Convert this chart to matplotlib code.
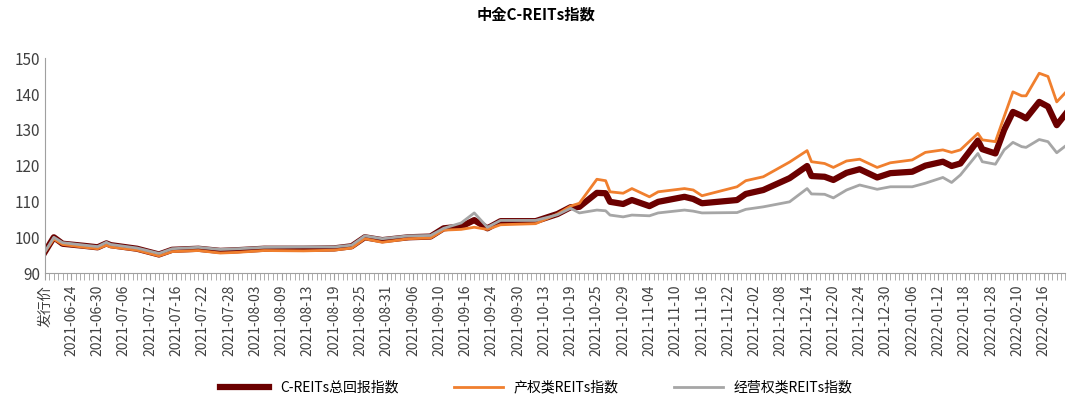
import matplotlib.pyplot as plt

plt.rcParams['font.family'] = ['Noto Sans CJK SC', 'Noto Sans CJK JP', 'Noto Sans CJK TC', 'DejaVu Sans']

# 交易日序号（每个点对应一个交易日）
day = [0, 2, 4, 9, 12, 14, 15, 21, 26, 29, 35, 40, 44, 50, 59, 66, 70, 73, 77, 83,
       88, 91, 95, 98, 101, 104, 112, 117, 120, 122, 126, 128, 129, 132, 134, 138, 140,
       146, 148, 150, 158, 160, 164, 170, 174, 175, 178, 180, 183, 186, 190, 193, 198,
       201, 205, 207, 209, 213, 214, 217, 219, 221, 223, 224, 227, 229, 231, 233]
total = [96, 100, 98.2, 97.6, 97.2, 98.3, 97.8, 96.8, 95.2, 96.5, 96.8, 96.2, 96.4, 96.8,
         96.8, 96.9, 97.5, 100, 99.2, 100, 100.2, 102.5, 103, 104.8, 102.5, 104.5, 104.5,
         106.5, 108.4, 108.5, 112.4, 112.3, 109.9, 109.3, 110.4, 108.7, 109.9, 111.3, 110.7,
         109.5, 110.4, 112.1, 113.2, 116.5, 119.9, 117.1, 116.9, 116, 118, 119, 116.7, 117.9,
         118.3, 120, 121.1, 119.9, 120.6, 127, 124.6, 123.4, 130, 135, 133.9, 133.2, 137.8,
         136.5, 131.3, 134.4]
prop = [96, 99.5, 98, 97.2, 96.8, 97.8, 97.3, 96.4, 94.8, 96, 96.3, 95.6, 95.8, 96.3,
        96.2, 96.4, 97, 99.6, 98.6, 99.6, 99.8, 102, 102.2, 102.8, 102.2, 103.5, 103.8,
        106.5, 108.7, 109.5, 116.2, 115.8, 112.7, 112.3, 113.6, 111.3, 112.7, 113.6, 113.2,
        111.6, 114.1, 115.8, 116.9, 121, 124.2, 121.1, 120.6, 119.5, 121.3, 121.8, 119.5,
        120.8, 121.6, 123.7, 124.4, 123.7, 124.4, 129, 127.2, 126.7, 133.7, 140.6, 139.5,
        139.5, 145.8, 144.9, 137.8, 140.4]
oper = [96, 100, 98.5, 97.8, 97.4, 98.6, 98, 97, 95.5, 96.8, 97.2, 96.6, 96.8, 97.2,
        97.3, 97.3, 97.8, 100.4, 99.6, 100.4, 100.5, 102.5, 104, 106.8, 102.8, 104.7, 104.7,
        106.3, 108.1, 106.8, 107.6, 107.4, 106.2, 105.7, 106.2, 106, 106.8, 107.6, 107.3,
        106.8, 106.9, 107.8, 108.5, 109.9, 113.6, 112.1, 112, 111, 113.2, 114.6, 113.4,
        114.1, 114.1, 115.1, 116.7, 115.3, 117.4, 123.4, 121.1, 120.4, 124.4, 126.5, 125.3,
        125.1, 127.3, 126.7, 123.6, 125.5]

tick_labels = ['发行价', '2021-06-24', '2021-06-30', '2021-07-06', '2021-07-12', '2021-07-16',
               '2021-07-22', '2021-07-28', '2021-08-03', '2021-08-09', '2021-08-13', '2021-08-19',
               '2021-08-25', '2021-08-31', '2021-09-06', '2021-09-10', '2021-09-16', '2021-09-24',
               '2021-09-30', '2021-10-13', '2021-10-19', '2021-10-25', '2021-10-29', '2021-11-04',
               '2021-11-10', '2021-11-16', '2021-11-22', '2021-12-02', '2021-12-08', '2021-12-14',
               '2021-12-20', '2021-12-24', '2021-12-30', '2022-01-06', '2022-01-12', '2022-01-18',
               '2022-01-28', '2022-02-10', '2022-02-16']
tick_pos = list(range(0, 6 * len(tick_labels), 6))

fig = plt.figure(figsize=(10.73, 4.07), dpi=100)
ax = fig.add_axes([0.042, 0.329, 0.951, 0.528])

ax.plot(day, prop, color='#F07F2E', lw=2, label='产权类REITs指数', zorder=2)
ax.plot(day, total, color='#6B0000', lw=4.5, label='C-REITs总回报指数', zorder=1)
ax.plot(day, oper, color='#A6A6A6', lw=2, label='经营权类REITs指数', zorder=3)

ax.set_xlim(0, 233)
ax.set_ylim(90, 150)
ax.set_yticks(range(90, 151, 10))
ax.set_xticks(tick_pos)
ax.set_xticklabels(tick_labels, rotation=90, fontsize=10, color='#404040')
ax.set_xticks(range(0, 234), minor=True)
ax.tick_params(axis='x', which='both', direction='out', length=5, color='#A0A0A0')
ax.tick_params(axis='y', length=0, labelsize=11, colors='#404040')
for s in ['top', 'right']:
    ax.spines[s].set_visible(False)
ax.spines['bottom'].set_color('#A0A0A0')
ax.spines['left'].set_color('#A0A0A0')

handles, labels = ax.get_legend_handles_labels()
order = [1, 0, 2]
fig.legend([handles[i] for i in order], [labels[i] for i in order], loc='lower center',
           ncol=3, frameon=False, fontsize=10, bbox_to_anchor=(0.5, 0.0),
           handlelength=3.5, columnspacing=4)
fig.suptitle('中金C-REITs指数', fontsize=11, fontweight='bold', y=0.985)

plt.savefig('out.png', dpi=100)
